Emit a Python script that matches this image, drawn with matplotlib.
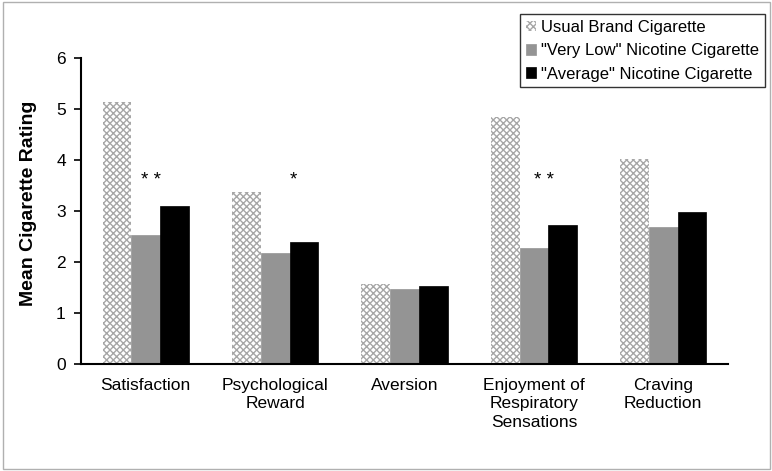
import matplotlib
matplotlib.use("Agg")
import matplotlib.pyplot as plt
import numpy as np
from matplotlib.patches import Rectangle

plt.rcParams['font.family'] = ['Liberation Sans', 'DejaVu Sans']
plt.rcParams['hatch.linewidth'] = 1.0

categories = ["Satisfaction", "Psychological\nReward", "Aversion",
              "Enjoyment of\nRespiratory\nSensations", "Craving\nReduction"]
series_names = ["Usual Brand Cigarette", "\"Very Low\" Nicotine Cigarette",
                "\"Average\" Nicotine Cigarette"]
usual = [5.14, 3.38, 1.57, 4.85, 4.02]
very_low = [2.53, 2.18, 1.47, 2.27, 2.68]
average = [3.10, 2.40, 1.53, 2.73, 2.98]
sig_labels = ["* *", "*", "", "* *", ""]
sig_offsets = [0.04, 0.14, 0.0, 0.08, 0.0]
sig_y = 3.6

fig = plt.figure(figsize=(7.72, 4.71), dpi=100)
ax = fig.add_axes([0.105, 0.2272, 0.838, 0.6497])

x = np.arange(len(categories))
w = 0.222
ax.bar(x - w, usual, w, color='white', edgecolor='#a6a6a6', hatch='xxxxx',
       linewidth=0, label=series_names[0])
ax.bar(x, very_low, w, color='#949494', edgecolor='#949494', linewidth=0.5,
       label=series_names[1])
ax.bar(x + w, average, w, color='black', edgecolor='black', linewidth=0.5,
       label=series_names[2])

for xi, lab, off in zip(x, sig_labels, sig_offsets):
    if lab:
        ax.text(xi + off, sig_y, lab, ha='center', va='center', fontsize=13.5)

ax.set_xlim(-0.5, 4.5)
ax.set_ylim(0, 6)
ax.set_yticks(range(0, 7))
ax.set_xticks(x)
ax.set_xticklabels(categories, fontsize=12.5, linespacing=1.3)
ax.tick_params(axis='x', length=0, pad=10)
ax.tick_params(axis='y', labelsize=12.5, length=5, width=1.2, direction='out', pad=6)
for s in ['top', 'right']:
    ax.spines[s].set_visible(False)
for s in ['left', 'bottom']:
    ax.spines[s].set_linewidth(1.5)
ax.set_ylabel("Mean Cigarette Rating", fontsize=14, fontweight='bold')
ax.yaxis.set_label_coords(-0.068, 0.526)

leg = fig.legend(loc='upper right', bbox_to_anchor=(765/772, 1 - 14/471), fontsize=12,
                 frameon=True, fancybox=False, edgecolor='black', borderaxespad=0,
                 handlelength=0.6, handleheight=0.6, handletextpad=0.3,
                 borderpad=0.35, labelspacing=0.5)
leg.get_frame().set_linewidth(1.0)

fig.patches.append(Rectangle((0.004, 0.004), 0.993, 0.992, transform=fig.transFigure,
                             fill=False, edgecolor='#b0b0b0', linewidth=1.0))

fig.savefig("out.png", dpi=100)
